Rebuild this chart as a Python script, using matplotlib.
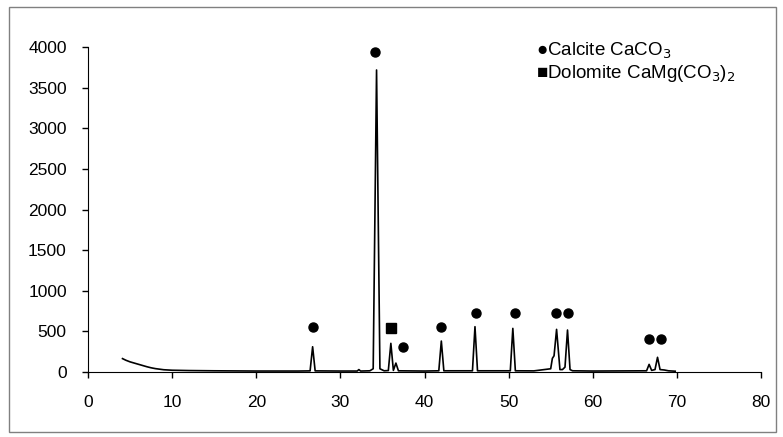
import matplotlib
matplotlib.use("Agg")
import matplotlib.pyplot as plt
from matplotlib.patches import Rectangle

plt.rcParams['font.family'] = ['Liberation Sans', 'DejaVu Sans']

# XRD pattern points (2theta, intensity)
two_theta = [4.1, 4.5, 5.0, 5.5, 6.0, 6.5, 7.0, 7.5, 8.0, 8.5, 9.0, 10.0, 12.0, 15.0,
             20.0, 25.0, 26.4, 26.7, 27.0, 30.0, 32.0, 32.2, 32.4, 33.5, 33.9, 34.3,
             34.7, 35.2, 35.7, 36.0, 36.3, 36.6, 36.9, 40.0, 41.7, 42.0, 42.3, 45.7,
             46.0, 46.3, 50.2, 50.5, 50.8, 53.0, 55.0, 55.2, 55.4, 55.7, 56.1, 56.4,
             56.7, 57.0, 57.3, 57.6, 60.0, 66.4, 66.7, 67.0, 67.4, 67.7, 68.0, 68.5,
             69.0, 69.8]
intensity = [165, 145, 125, 110, 95, 80, 65, 52, 42, 35, 28, 22, 18, 15,
             12, 12, 14, 311, 14, 12, 12, 30, 12, 15, 40, 3717,
             40, 15, 18, 353, 20, 110, 15, 12, 15, 381, 15, 15,
             558, 15, 15, 537, 15, 14, 40, 168, 200, 525, 30, 30,
             60, 517, 30, 15, 12, 15, 94, 20, 30, 181, 30, 25,
             15, 10]

# phase markers
calcite_x = [26.7, 34.1, 37.5, 42.0, 46.1, 50.8, 55.6, 57.1, 66.7, 68.1]
calcite_y = [557, 3935, 311, 550, 730, 730, 730, 730, 406, 406]
dolomite_x = [36.0]
dolomite_y = [537]

x_ticks = [0, 10, 20, 30, 40, 50, 60, 70, 80]
y_ticks = [0, 500, 1000, 1500, 2000, 2500, 3000, 3500, 4000]

fig = plt.figure(figsize=(7.83, 4.37), dpi=100)
ax = fig.add_axes([0.1124, 0.1487, 0.8595, 0.7437])

ax.plot(two_theta, intensity, color='black', linewidth=1.2)
ax.plot(calcite_x, calcite_y, linestyle='none', marker='o', markersize=6.5,
        color='black')
ax.plot(dolomite_x, dolomite_y, linestyle='none', marker='s', markersize=7,
        color='black')

ax.set_xlim(0, 80)
ax.set_ylim(0, 4000)
ax.set_xticks(x_ticks)
ax.set_yticks(y_ticks)
ax.tick_params(direction='out', length=4.3, width=1, labelsize=12.5)
ax.tick_params(axis='x', pad=12)
ax.tick_params(axis='y', pad=11)
for side in ['top', 'right']:
    ax.spines[side].set_visible(False)

# legend written as text
fig.text(0.684, 0.884, '\u25cfCalcite CaCO$_3$', fontsize=13.5, va='center', ha='left')
fig.text(0.684, 0.832, '\u25a0Dolomite CaMg(CO$_3$)$_2$', fontsize=13.5,
         va='center', ha='left')

# chart area border
fig.patches.append(Rectangle((0.012, 0.012), 0.979, 0.972, transform=fig.transFigure,
                             fill=False, edgecolor='#808080', linewidth=1))

fig.savefig('out.png', dpi=100)
